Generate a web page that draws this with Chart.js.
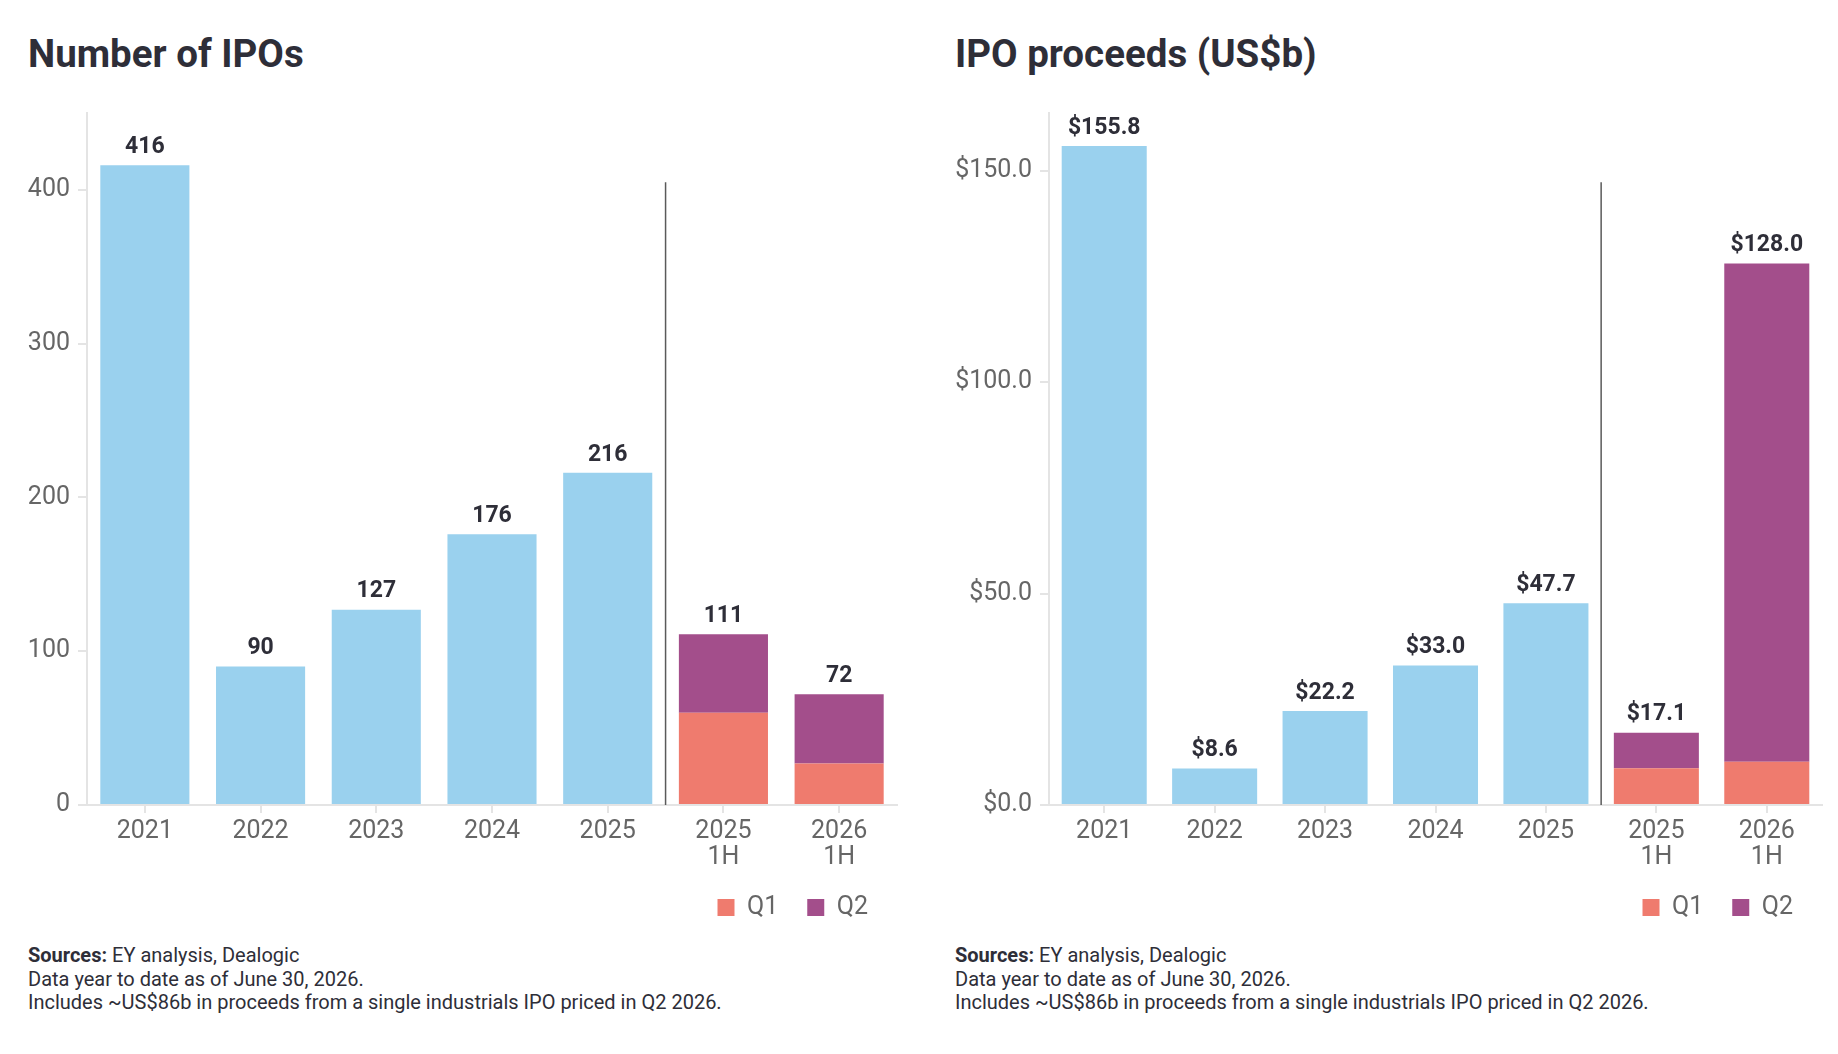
<!DOCTYPE html>
<html>
<head>
<meta charset="utf-8">
<title>Number of IPOs and IPO proceeds</title>
<script src="https://cdn.jsdelivr.net/npm/chart.js@4.4.1/dist/chart.umd.min.js"></script>
<style>
    body { margin: 0; background: #fff; font-family: Roboto, sans-serif; }
    #page { position: relative; width: 1838px; height: 1054px; overflow: hidden; }
    .title { position: absolute; top: 35px; font: bold 38.5px/38px Roboto, sans-serif; color: #2e2e38; white-space: nowrap; }
    .panel { position: absolute; top: 90px; }
    .notes { position: absolute; top: 944px; font: 20px/23.5px Roboto, sans-serif; color: #2e2e38; white-space: nowrap; }
</style>
</head>
<body>
<div id="page">
    <div class="title" style="left:28px">Number of IPOs</div>
    <div class="title" style="left:955px">IPO proceeds (US$b)</div>

    <canvas id="countChart" class="panel" style="left:0" width="919" height="840"></canvas>
    <canvas id="proceedsChart" class="panel" style="left:919px" width="919" height="840"></canvas>

    <div class="notes" style="left:28px"><b>Sources:</b> EY analysis, Dealogic<br>Data year to date as of June 30, 2026.<br>Includes ~US$86b in proceeds from a single industrials IPO priced in Q2 2026.</div>
    <div class="notes" style="left:955px"><b>Sources:</b> EY analysis, Dealogic<br>Data year to date as of June 30, 2026.<br>Includes ~US$86b in proceeds from a single industrials IPO priced in Q2 2026.</div>
</div>

<script>
// categories shared by both charts
const categories = ["2021", "2022", "2023", "2024", "2025", ["2025", "1H"], ["2026", "1H"]];

// number of IPOs
const countAnnual = [416, 90, 127, 176, 216, null, null];
const countQ1 = [null, null, null, null, null, 60, 27];
const countQ2 = [null, null, null, null, null, 51, 45];
const countTicks = [0, 100, 200, 300, 400];
const countMax = 450;

// IPO proceeds (US$b)
const proceedsAnnual = [155.8, 8.6, 22.2, 33.0, 47.7, null, null];
const proceedsQ1 = [null, null, null, null, null, 8.7, 10.2];
const proceedsQ2 = [null, null, null, null, null, 8.4, 117.8];
const proceedsTicks = [0, 50, 100, 150];
const proceedsMax = 163.6;

// last full-year category, the divider goes after it
const DIVIDER_AFTER = 4;

const BLUE = "#9ad1ee";
const SALMON = "#ef7b6e";
const PURPLE = "#a34e8b";
const AXIS_GREY = "#e4e4e4";

Chart.defaults.font.family = "Roboto, sans-serif";

// draws the stack total above each bar
function makeTotalLabels(format) {
    return {
        id: "totalLabels",
        afterDatasetsDraw(chart) {
            const { ctx, scales: { x, y } } = chart;
            ctx.save();
            ctx.font = "bold 23px Roboto, sans-serif";
            ctx.fillStyle = "#2e2e38";
            ctx.textAlign = "center";
            ctx.textBaseline = "middle";
            chart.data.labels.forEach((label, i) => {
                let total = 0;
                chart.data.datasets.forEach(ds => {
                    if (ds.data[i] != null) total += ds.data[i];
                });
                ctx.fillText(format(total), x.getPixelForValue(i), y.getPixelForValue(total) - 18);
            });
            ctx.restore();
        }
    };
}

// vertical line between the full years and the half years
const dividerLine = {
    id: "dividerLine",
    afterDatasetsDraw(chart) {
        const { ctx, chartArea, scales: { x } } = chart;
        const px = (x.getPixelForValue(DIVIDER_AFTER) + x.getPixelForValue(DIVIDER_AFTER + 1)) / 2;
        ctx.save();
        ctx.strokeStyle = "#5a5a5a";
        ctx.lineWidth = 1.5;
        ctx.beginPath();
        ctx.moveTo(px, chartArea.top + chartArea.height * 0.1);
        ctx.lineTo(px, chartArea.bottom);
        ctx.stroke();
        ctx.restore();
    }
};

function createBarChart(canvasId, annual, q1, q2, ticks, max, tickFormat, labelFormat, pad) {
    const ctx = document.getElementById(canvasId).getContext("2d");
    return new Chart(ctx, {
        type: "bar",
        data: {
            labels: categories,
            datasets: [
                { label: "Annual", data: annual, backgroundColor: BLUE },
                { label: "Q1", data: q1, backgroundColor: SALMON },
                { label: "Q2", data: q2, backgroundColor: PURPLE }
            ]
        },
        options: {
            responsive: false,
            animation: false,
            barPercentage: 0.77,
            categoryPercentage: 1,
            layout: { padding: { left: pad.left, right: pad.right, top: 1, bottom: 0 } },
            scales: {
                x: {
                    stacked: true,
                    grid: { drawOnChartArea: false, offset: false, color: AXIS_GREY, lineWidth: 2, tickLength: 8 },
                    border: { color: AXIS_GREY, width: 2 },
                    ticks: { color: "#666", font: { size: 25, lineHeight: 1.03 }, padding: 6, maxRotation: 0 },
                    afterFit: scale => { scale.height = 61; }
                },
                y: {
                    stacked: true,
                    min: 0,
                    max: max,
                    grid: { drawOnChartArea: false, color: AXIS_GREY, lineWidth: 2, tickLength: 9 },
                    border: { color: AXIS_GREY, width: 2 },
                    ticks: { color: "#666", font: { size: 25 }, padding: 8, callback: tickFormat },
                    afterBuildTicks: scale => { scale.ticks = ticks.map(v => ({ value: v })); },
                    afterFit: scale => { scale.width = pad.axis; }
                }
            },
            plugins: {
                tooltip: { enabled: false },
                legend: {
                    position: "bottom",
                    align: "end",
                    labels: {
                        boxWidth: 17,
                        boxHeight: 17,
                        padding: 29,
                        color: "#666",
                        font: { size: 25 },
                        filter: item => item.text !== "Annual"
                    }
                }
            }
        },
        plugins: [makeTotalLabels(labelFormat), dividerLine]
    });
}

createBarChart("countChart", countAnnual, countQ1, countQ2, countTicks, countMax,
    v => String(v), v => String(Math.round(v)),
    { left: 28, right: 22, axis: 59 });

createBarChart("proceedsChart", proceedsAnnual, proceedsQ1, proceedsQ2, proceedsTicks, proceedsMax,
    v => "$" + v.toFixed(1), v => "$" + v.toFixed(1),
    { left: 36, right: 16, axis: 94 });
</script>
</body>
</html>
